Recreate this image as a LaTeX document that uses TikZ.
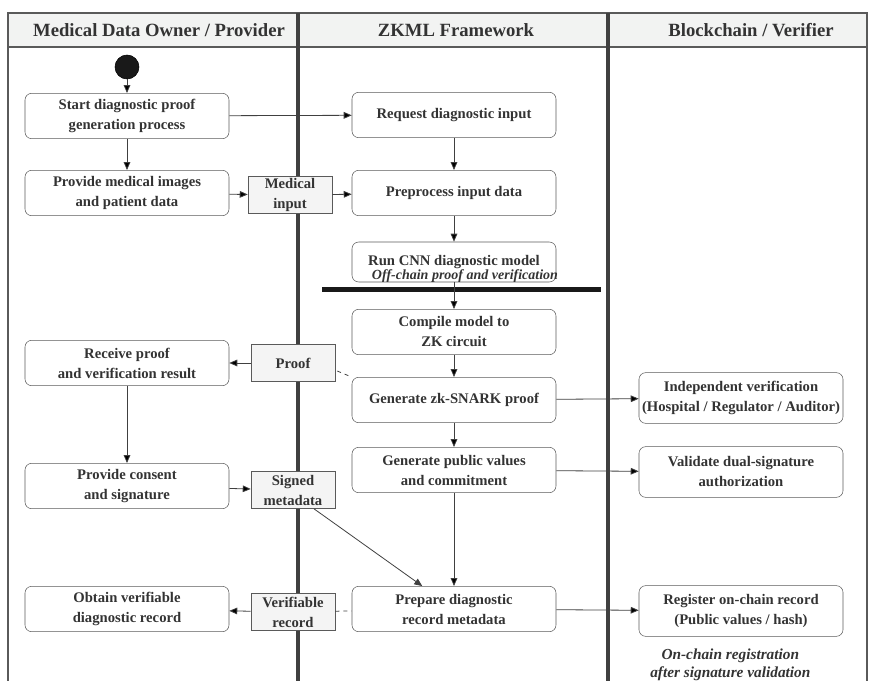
\documentclass[tikz,border=0pt]{standalone}
\usepackage{fontspec}
\setmainfont{Liberation Serif}
\usepackage{xcolor}
\usetikzlibrary{positioning,arrows.meta,calc}
\definecolor{linegray}{HTML}{404040}
\definecolor{boxgray}{HTML}{5A5A5A}
\definecolor{objfill}{HTML}{F4F4F4}
\definecolor{headfill}{HTML}{F2F3F2}
\definecolor{txt}{HTML}{333333}

\begin{document}
\begin{tikzpicture}
	[x=0.75pt,y=-0.75pt,
	act/.style={draw=boxgray,rounded corners=5pt,minimum width=153pt,minimum height=34pt,inner sep=1pt,align=center,text=txt,font=\bfseries\fontsize{11}{15}\selectfont},
	obj/.style={draw=boxgray,fill=objfill,minimum width=63pt,minimum height=28pt,inner sep=1pt,align=center,text=txt,font=\bfseries\fontsize{11}{15}\selectfont},
	note/.style={align=center,text=txt,font=\bfseries\itshape\fontsize{10.5}{13}\selectfont},
	head/.style={text=txt,font=\bfseries\fontsize{14}{16}\selectfont},
	flow/.style={-{Triangle[length=6pt,width=5pt]},draw=linegray,semithick},
	dashline/.style={draw=linegray,dashed,semithick},
	lane/.style={draw=linegray,line width=3pt}]
	\useasboundingbox (0,0) rectangle (872,681);
	%%%%% LANES
	\draw[draw=boxgray,fill=headfill,thick] (8,13) rectangle (867,47);
	\draw[draw=boxgray,thick] (8,47) -- (8,681);
	\draw[draw=boxgray,thick] (867,47) -- (867,681);
	\draw[lane] (298,13) -- (298,681);
	\draw[lane] (608,13) -- (608,681);
	\node[head] (hOwner) at (159,30) {Medical Data Owner / Provider};
	\node[head] (hZkml) at (456,30) {ZKML Framework};
	\node[head] (hChain) at (751,30) {Blockchain / Verifier};
	%%%%% OWNER
	\node[circle,fill=black!90,draw=black,minimum size=18pt,inner sep=0pt] (init) at (127,67) {};
	\node[act] (start) at (127,116) {Start diagnostic proof\\generation process};
	\node[act] (provide) at (127,193) {Provide medical images\\and patient data};
	\node[act] (receive) at (127,363) {Receive proof\\and verification result};
	\node[act] (consent) at (127,486) {Provide consent\\and signature};
	\node[act] (obtain) at (127,609) {Obtain verifiable\\diagnostic record};
	%%%%% OBJECTS
	\node[obj] (medin) at (290,195) {Medical\\input};
	\node[obj] (proofobj) at (293,363) {Proof};
	\node[obj] (signed) at (293,490) {Signed\\metadata};
	\node[obj] (verobj) at (293,612) {Verifiable\\record};
	%%%%% ZKML
	\node[act] (request) at (454,115) {Request diagnostic input};
	\node[act] (prep) at (454,193) {Preprocess input data};
	\node[act,minimum height=30pt] (cnn) at (454,262) {Run CNN diagnostic model};
	\node[note] (offnote) at (465,276) {Off-chain proof and verification};
	\draw[line width=3.75pt,black!90] (322,290) -- (601,290);
	\node[act] (compile) at (454,332) {Compile model to\\ZK circuit};
	\node[act] (zkproof) at (454,400) {Generate zk-SNARK proof};
	\node[act] (pubval) at (454,470) {Generate public values\\and commitment};
	\node[act] (prepare) at (454,609) {Prepare diagnostic\\record metadata};
	%%%%% CHAIN
	\node[act,minimum height=38pt] (indep) at (741,398) {Independent verification\\(Hospital / Regulator / Auditor)};
	\node[act,minimum height=38pt] (dualsig) at (741,472) {Validate dual-signature\\authorization};
	\node[act,minimum height=38pt] (register) at (741,611) {Register on-chain record\\(Public values / hash)};
	\node[note,font=\bfseries\itshape\fontsize{11.5}{13}\selectfont,below=6pt of register,xshift=-8pt] (chainnote) {On-chain registration\\after signature validation};
	%%%%% FLOWS
	\path[flow] (init) edge (start);
	\path[flow] (start) edge (request);
	\path[flow] (start) edge (provide);
	\path[flow] (provide) edge (medin);
	\path[flow] (medin) edge (prep);
	\path[flow] (request) edge (prep);
	\path[flow] (prep) edge (cnn);
	\path[flow] (cnn) edge (compile);
	\path[flow] (compile) edge (zkproof);
	\path[flow] (zkproof) edge (pubval);
	\path[flow] (pubval) edge (prepare);
	\path[flow] (proofobj) edge (receive);
	\path[flow] (receive) edge (consent);
	\path[flow] (consent) edge (signed);
	\draw[flow] ($(signed.south)!0.5!(signed.south east)$) -- ($(prepare.north)!0.31!(prepare.north west)$);
	\path[flow] (verobj) edge (obtain);
	\path[flow] (zkproof) edge (indep);
	\path[flow] (pubval) edge (dualsig);
	\path[flow] (prepare) edge (register);
	\draw[dashline] ($(proofobj.east)+(2,8)$) -- (zkproof.north west);
	\draw[dashline] (verobj) -- (prepare);
\end{tikzpicture}
\end{document}
